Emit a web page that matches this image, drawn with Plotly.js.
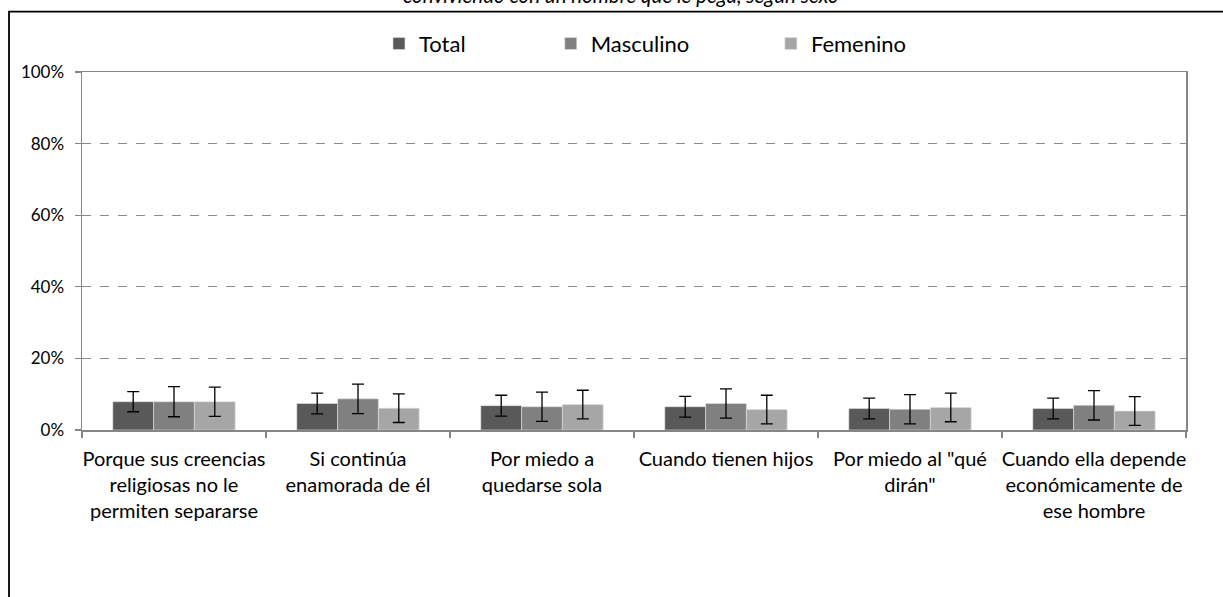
<!DOCTYPE html>
<html>
<head>
<meta charset="utf-8">
<script src="https://cdn.plot.ly/plotly-3.0.1.min.js"></script>
<style>html,body{margin:0;padding:0;background:#fff;}#chart{width:1223px;height:597px;}</style>
</head>
<body>
<div id="chart"></div>
<script>
const categories = [
  "Porque sus creencias<br>religiosas no le<br>permiten separarse",
  "Si continúa<br>enamorada de él",
  "Por miedo a<br>quedarse sola",
  "Cuando tienen hijos",
  "Por miedo al \"qué<br>dirán\"",
  "Cuando ella depende<br>económicamente de<br>ese hombre"
];
const seriesNames = ["Total", "Masculino", "Femenino"];
const total = [7.9, 7.4, 6.8, 6.5, 6.0, 6.0];
const totalErr = [2.8, 2.9, 2.9, 2.9, 2.9, 2.9];
const masculino = [7.9, 8.7, 6.5, 7.4, 5.8, 6.9];
const masculinoErr = [4.2, 4.1, 4.1, 4.1, 4.1, 4.1];
const femenino = [7.9, 6.1, 7.1, 5.7, 6.3, 5.3];
const femeninoErr = [4.1, 4.0, 4.0, 4.0, 4.0, 4.0];
const titleText = "conviviendo con un hombre que le pega, según sexo";
const yTicks = [0, 20, 40, 60, 80, 100];

const FONT = "Lato, 'Open Sans', sans-serif";
const colors = ["#595959", "#808080", "#a6a6a6"];
const values = [total, masculino, femenino];
const errs = [totalErr, masculinoErr, femeninoErr];
const legendIds = ["legend", "legend2", "legend3"];
const legendX = [0.2690, 0.4246, 0.6240];

const traces = values.map((v, i) => ({
  type: "bar",
  name: seriesNames[i],
  x: categories,
  y: v,
  marker: {color: colors[i], line: {color: "#e0e0e0", width: 0.6}},
  error_y: {type: "data", array: errs[i], visible: true, color: "#000", thickness: 1.3, width: 6},
  legend: legendIds[i],
  hoverinfo: "none"
}));

const legendBase = {
  orientation: "h", yanchor: "middle", y: 1.079, xanchor: "left",
  font: {family: FONT, size: 22, color: "#000"}, bgcolor: "rgba(0,0,0,0)", borderwidth: 0,
  itemwidth: 30, tracegroupgap: 0
};

const layout = {
  width: 1223, height: 597,
  margin: {l: 82, r: 37, t: 72, b: 166.5},
  paper_bgcolor: "#fff", plot_bgcolor: "#fff",
  font: {family: FONT, color: "#000"},
  barmode: "group", bargap: 0.335, bargroupgap: 0,
  showlegend: true,
  legend: Object.assign({}, legendBase, {x: legendX[0]}),
  legend2: Object.assign({}, legendBase, {x: legendX[1]}),
  legend3: Object.assign({}, legendBase, {x: legendX[2]}),
  xaxis: {
    type: "category", showline: true, linecolor: "#868686", linewidth: 1.5, mirror: true,
    ticks: "outside", tickson: "boundaries", ticklen: 6, tickcolor: "#868686", tickwidth: 1.3,
    ticklabelstandoff: 10, tickangle: 0, automargin: false,
    tickfont: {family: FONT, size: 20, color: "#000"}, showgrid: false, fixedrange: true
  },
  yaxis: {
    range: [0, 100], tickvals: yTicks, ticktext: yTicks.map(t => t + "%"),
    showline: true, linecolor: "#868686", linewidth: 1.5, mirror: true,
    ticks: "outside", ticklen: 6, tickcolor: "#868686", tickwidth: 1.3,
    ticklabelstandoff: 7, automargin: false,
    showgrid: true, gridcolor: "#8c8c8c", griddash: "dash", gridwidth: 1,
    tickfont: {family: FONT, size: 17, color: "#000"}, zeroline: false, fixedrange: true
  },
  shapes: [{
    type: "rect", xref: "paper", yref: "paper",
    x0: -0.0661, x1: 1.1, y0: -0.6, y1: 1.1685,
    line: {color: "#000", width: 1.8}, fillcolor: "rgba(0,0,0,0)", layer: "above"
  }],
  annotations: [{
    text: "<i>" + titleText + "</i>", xref: "paper", yref: "paper",
    x: 0.4882, y: 1.2159, xanchor: "center", yanchor: "middle", showarrow: false,
    font: {family: FONT, size: 20.5, color: "#000"}
  }]
};

Plotly.newPlot("chart", traces, layout, {displayModeBar: false, staticPlot: true});
</script>
</body>
</html>
